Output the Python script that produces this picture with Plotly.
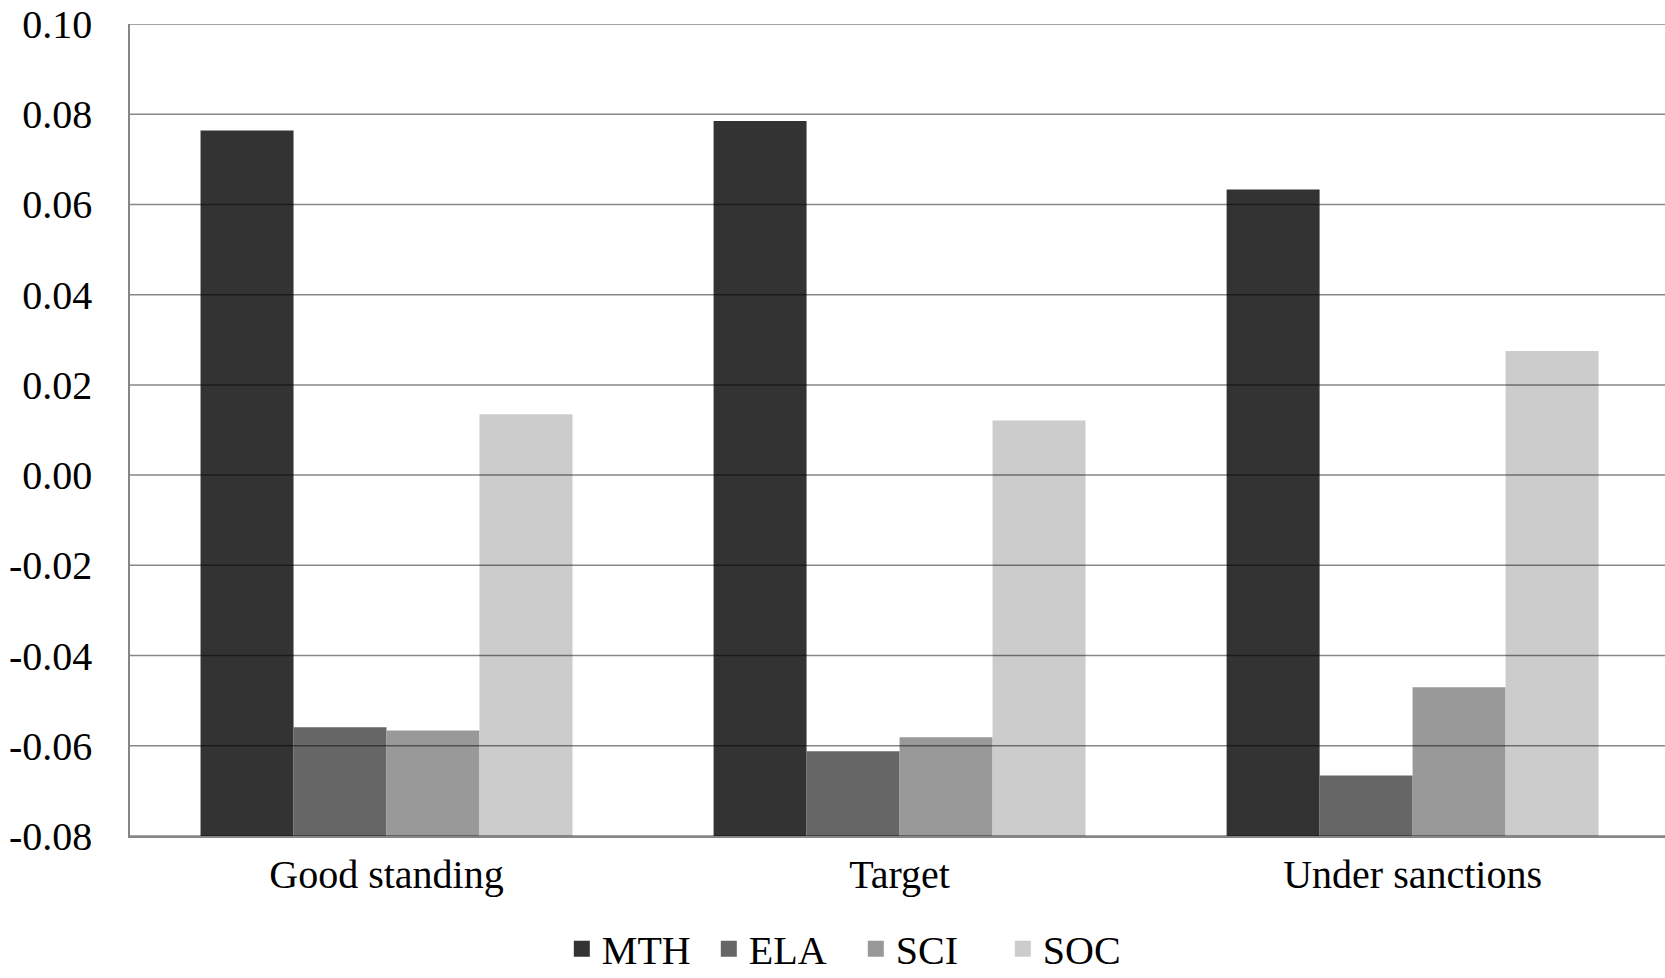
import plotly.graph_objects as go

categories = ["Good standing", "Target", "Under sanctions"]
series_names = ["MTH", "ELA", "SCI", "SOC"]
MTH = [0.0764, 0.0785, 0.0633]
ELA = [-0.0559, -0.0612, -0.0666]
SCI = [-0.0566, -0.0581, -0.0470]
SOC = [0.0135, 0.0121, 0.0275]
BASE = -0.08
tick_values = [0.10, 0.08, 0.06, 0.04, 0.02, 0.00, -0.02, -0.04, -0.06, -0.08]
tick_labels = ["0.10", "0.08", "0.06", "0.04", "0.02", "0.00", "-0.02", "-0.04", "-0.06", "-0.08"]

colors = ["#333333", "#666666", "#999999", "#cccccc"]
series = [MTH, ELA, SCI, SOC]
FONT = "Liberation Serif"

fig = go.Figure()
for name, vals, col in zip(series_names, series, colors):
    fig.add_trace(go.Bar(
        x=categories, y=[v - BASE for v in vals], base=BASE, name=name,
        marker=dict(color=col, line=dict(width=0)), showlegend=False,
    ))
for name, col in zip(series_names, colors):
    fig.add_trace(go.Scatter(
        x=[None], y=[None], mode="markers", name=name,
        marker=dict(symbol="square", size=22, color=col, line=dict(width=0)),
    ))

# gridlines drawn above bars (as in the original)
for tv in tick_values:
    fig.add_shape(type="line", xref="paper", x0=0, x1=1, yref="y", y0=tv, y1=tv,
                  line=dict(color="rgba(0,0,0,0.47)", width=1.5), layer="above")

fig.update_layout(
    width=1665, height=978,
    margin=dict(l=130, r=0, t=24, b=142, autoexpand=False),
    paper_bgcolor="white", plot_bgcolor="white",
    barmode="group", bargap=0.275, bargroupgap=0,
    font=dict(family=FONT, size=40, color="#000000"),
    legend=dict(orientation="h", xref="container", x=0.514, xanchor="center",
                yref="container", y=0.03, yanchor="middle",
                font=dict(family=FONT, size=40), itemwidth=30, traceorder="normal",
                entrywidth=102, entrywidthmode="pixels"),
    showlegend=True,
)
fig.update_xaxes(
    type="category", range=[-0.5, 2.492], showgrid=False, zeroline=False,
    showline=True, linecolor="#868686", linewidth=1.5, ticks="", ticklabelstandoff=2,
    tickfont=dict(family=FONT, size=40, color="#000"),
)
fig.update_yaxes(
    range=[-0.08, 0.10], tickvals=tick_values, ticktext=tick_labels,
    showgrid=False, zeroline=False, showline=True, linecolor="#868686", linewidth=1.5,
    ticks="", ticklabelstandoff=28, layer="above traces",
    tickfont=dict(family=FONT, size=40, color="#000"),
)

fig.write_html("out.html")
